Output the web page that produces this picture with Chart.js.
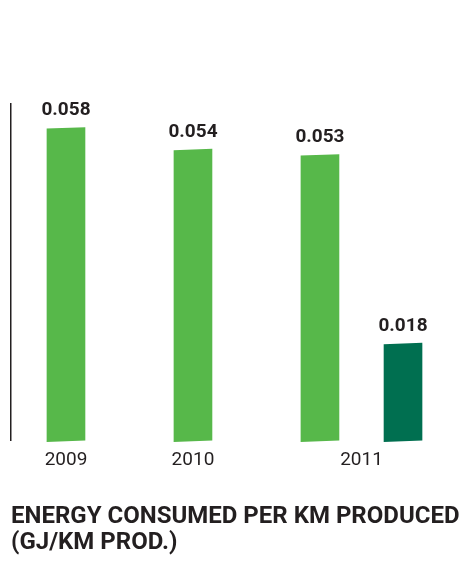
<!DOCTYPE html>
<html>
<head>
<meta charset="utf-8">
<script src="https://cdn.jsdelivr.net/npm/chart.js@4/dist/chart.umd.min.js"></script>
<style>
  html, body { margin: 0; padding: 0; background: #ffffff; }
  #wrap { width: 466px; height: 563px; }
</style>
</head>
<body>
<div id="wrap"><canvas id="energyChart"></canvas></div>
<script>
// Energy consumed per km produced (GJ/km prod.)
const years = ['2009', '2010', '2011'];
const energyPerKm = [0.058, 0.054, 0.053];
const energyPerKm2011b = [0.018];

const LIGHT_GREEN = '#57b84a';
const DARK_GREEN = '#006f50';
const TEXT_COLOR = '#231f20';

// x layout: one unit per year, the second 2011 bar sits beside the first
const PAIR_OFFSET = 0.654;
const idx2011 = years.indexOf('2011');

const lightPoints = energyPerKm.map((v, i) => ({ x: i, y: v }));
const darkPoints = energyPerKm2011b.map(v => ({ x: idx2011 + PAIR_OFFSET, y: v }));
const tickValues = years.map((y, i) => (i === idx2011 ? i + PAIR_OFFSET / 2 : i));

// bars are printed with a slight tilt
const TILT = -0.035;
const tiltedBars = {
  id: 'tiltedBars',
  beforeDatasetDraw(chart, args) {
    const ctx = chart.ctx;
    args.meta.data.forEach(bar => {
      ctx.save();
      ctx.translate(bar.x, 0);
      ctx.transform(1, TILT, 0, 1, 0, 0);
      ctx.translate(-bar.x, 0);
      bar.draw(ctx);
      ctx.restore();
    });
    return false;
  }
};

// value printed above each bar
const valueLabels = {
  id: 'valueLabels',
  afterDatasetsDraw(chart) {
    const ctx = chart.ctx;
    ctx.save();
    ctx.font = 'bold 19px Roboto';
    ctx.fillStyle = TEXT_COLOR;
    ctx.textAlign = 'center';
    ctx.textBaseline = 'alphabetic';
    chart.data.datasets.forEach((ds, di) => {
      chart.getDatasetMeta(di).data.forEach((bar, i) => {
        ctx.fillText(ds.data[i].y.toFixed(3), bar.x, bar.y - 13);
      });
    });
    ctx.restore();
  }
};

new Chart(document.getElementById('energyChart'), {
  type: 'bar',
  data: {
    datasets: [
      {
        data: lightPoints,
        backgroundColor: LIGHT_GREEN,
        barThickness: 38,
        grouped: false
      },
      {
        data: darkPoints,
        backgroundColor: DARK_GREEN,
        barThickness: 38,
        grouped: false
      }
    ]
  },
  options: {
    responsive: true,
    maintainAspectRatio: false,
    animation: false,
    layout: {
      padding: { top: 104, left: 11, right: 0, bottom: 0 }
    },
    plugins: {
      legend: { display: false },
      tooltip: { enabled: false },
      title: {
        display: true,
        position: 'bottom',
        align: 'start',
        text: ['ENERGY CONSUMED PER KM PRODUCED', '(GJ/KM PROD.)'],
        color: TEXT_COLOR,
        font: { family: 'Roboto', size: 24, weight: 'bold', lineHeight: 1.09 },
        padding: { top: 24, bottom: 7 }
      }
    },
    scales: {
      x: {
        type: 'linear',
        min: -0.433,
        max: 3.15,
        offset: false,
        bounds: 'data',
        grid: { display: false, drawTicks: false, offset: false },
        border: { display: false },
        afterBuildTicks(scale) {
          scale.ticks = tickValues.map(v => ({ value: v }));
        },
        ticks: {
          padding: 8,
          color: TEXT_COLOR,
          font: { family: 'Roboto', size: 19 },
          maxRotation: 0,
          autoSkip: false,
          callback: (value, index) => years[index]
        }
      },
      y: {
        min: 0,
        max: 0.0625,
        grid: { display: false, drawTicks: false },
        border: { display: true, color: TEXT_COLOR, width: 1.5 },
        ticks: { display: false },
        afterFit(scale) { scale.width = 0; }
      }
    }
  },
  plugins: [tiltedBars, valueLabels]
});
</script>
</body>
</html>
